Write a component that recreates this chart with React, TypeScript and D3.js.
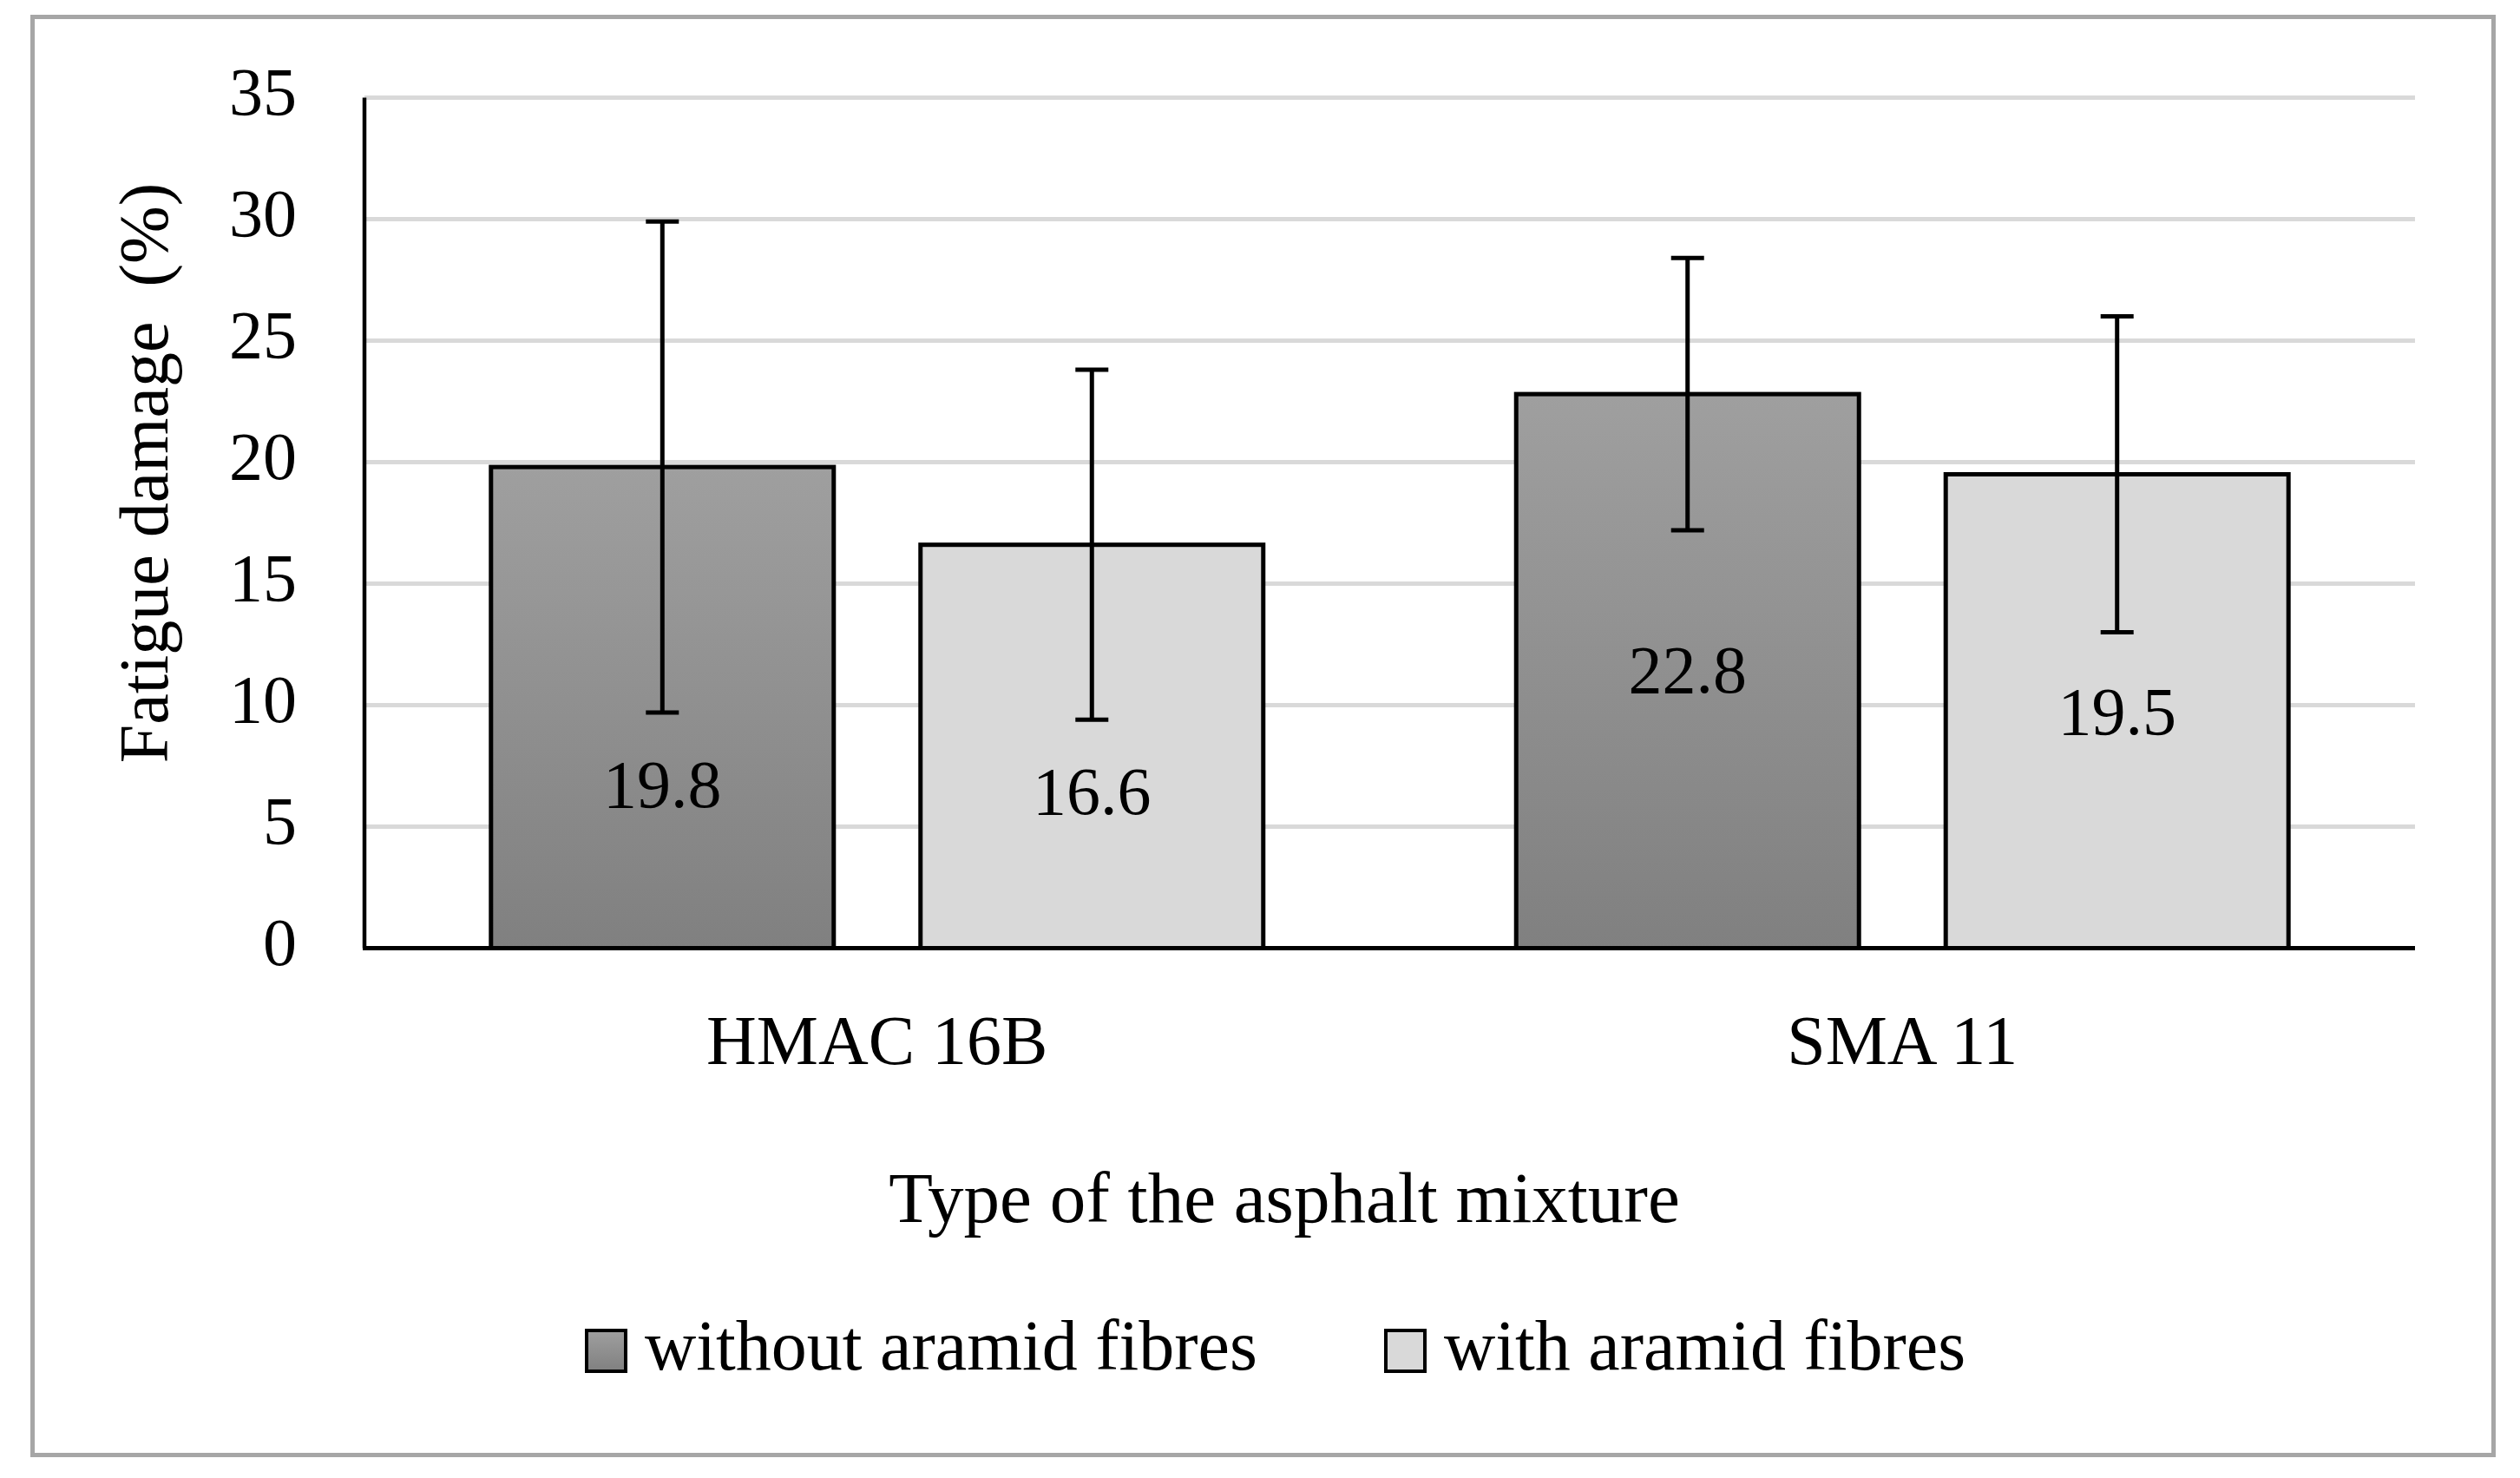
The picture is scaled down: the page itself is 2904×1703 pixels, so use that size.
import { useMemo } from "react";
import * as d3 from "d3";

const WIDTH = 2904;
const HEIGHT = 1703;
const PLOT = { left: 420, right: 2783, top: 112.5, bottom: 1092.5 };
const FONT = "'Palatino Linotype', 'Book Antiqua', Palatino, 'Liberation Serif', 'Times New Roman', serif";
const FS = 78;
const DY = -7; // Liberation sits a little lower than the original Palatino

const CATEGORIES = ["HMAC 16B", "SMA 11"];
const SERIES = ["without aramid fibres", "with aramid fibres"];
const WITHOUT = [19.8, 22.8];
const WITH = [16.6, 19.5];
const WITHOUT_ERR = [10.1, 5.6];
const WITH_ERR = [7.2, 6.5];
// where the value labels sit on each bar (in % units)
const WITHOUT_LABEL_AT = [6.5, 11.2];
const WITH_LABEL_AT = [6.2, 9.5];
const Y_TICKS = [0, 5, 10, 15, 20, 25, 30, 35];

const FILLS = ["url(#gradWithout)", "#d9d9d9"];
const LEGEND_X = [676, 1597];

export default function App() {
  const bars = useMemo(() => {
    const vals = [WITHOUT, WITH];
    const errs = [WITHOUT_ERR, WITH_ERR];
    const labs = [WITHOUT_LABEL_AT, WITH_LABEL_AT];
    return CATEGORIES.flatMap((cat, ci) =>
      SERIES.map((s, si) => ({
        cat,
        series: s,
        si,
        value: vals[si][ci],
        err: errs[si][ci],
        labelAt: labs[si][ci],
      }))
    );
  }, []);

  const y = d3.scaleLinear().domain([0, 35]).range([PLOT.bottom, PLOT.top]);
  const x0 = d3
    .scaleBand()
    .domain(CATEGORIES)
    .range([PLOT.left, PLOT.right])
    .paddingInner(0.2467)
    .paddingOuter(0.1234);
  const x1 = d3
    .scaleBand()
    .domain(SERIES)
    .range([0, x0.bandwidth()])
    .paddingInner(0.202)
    .paddingOuter(0);

  const cap = 19;

  return (
    <div style={{ position: "absolute", left: 0, top: 0 }}>
      <svg width={WIDTH} height={HEIGHT} viewBox={`0 0 ${WIDTH} ${HEIGHT}`} style={{ display: "block", background: "#fff" }}>
        <defs>
          <linearGradient id="gradWithout" x1="0" y1="0" x2="0" y2="1">
            <stop offset="0%" stopColor="#9f9f9f" />
            <stop offset="100%" stopColor="#808080" />
          </linearGradient>
        </defs>
        <rect x={37.5} y={19.5} width={2836} height={1657} fill="#fff" stroke="#a6a6a6" strokeWidth={5} />

        {/* gridlines */}
        {Y_TICKS.filter((t) => t > 0).map((t) => (
          <line key={t} x1={PLOT.left} x2={PLOT.right} y1={y(t)} y2={y(t)} stroke="#d9d9d9" strokeWidth={5} />
        ))}

        {/* bars */}
        {bars.map((b) => {
          const bx = (x0(b.cat) ?? 0) + (x1(b.series) ?? 0);
          return (
            <rect
              key={`${b.cat}-${b.si}`}
              x={bx}
              y={y(b.value)}
              width={x1.bandwidth()}
              height={y(0) - y(b.value)}
              fill={FILLS[b.si]}
              stroke="#000"
              strokeWidth={5}
            />
          );
        })}

        {/* axes */}
        <line x1={PLOT.left} x2={PLOT.left} y1={PLOT.top} y2={PLOT.bottom} stroke="#000" strokeWidth={4.5} />
        <line x1={PLOT.left - 2} x2={PLOT.right} y1={y(0)} y2={y(0)} stroke="#000" strokeWidth={5} />

        {/* error bars */}
        {bars.map((b) => {
          const cx = (x0(b.cat) ?? 0) + (x1(b.series) ?? 0) + x1.bandwidth() / 2;
          const hi = y(b.value + b.err);
          const lo = y(b.value - b.err);
          return (
            <g key={`err-${b.cat}-${b.si}`} stroke="#000" strokeWidth={5}>
              <line x1={cx} x2={cx} y1={hi} y2={lo} />
              <line x1={cx - cap} x2={cx + cap} y1={hi} y2={hi} />
              <line x1={cx - cap} x2={cx + cap} y1={lo} y2={lo} />
            </g>
          );
        })}

        <g fontFamily={FONT} fontSize={FS} fill="#000">
          {/* value labels */}
          {bars.map((b) => (
            <text
              key={`lab-${b.cat}-${b.si}`}
              x={(x0(b.cat) ?? 0) + (x1(b.series) ?? 0) + x1.bandwidth() / 2}
              y={y(b.labelAt)}
              dy={DY}
              textAnchor="middle"
              dominantBaseline="central"
            >
              {b.value.toFixed(1)}
            </text>
          ))}

          {/* y tick labels */}
          {Y_TICKS.map((t) => (
            <text key={`yt-${t}`} x={342} y={y(t)} dy={DY} textAnchor="end" dominantBaseline="central">
              {t}
            </text>
          ))}

          {/* category labels */}
          {CATEGORIES.map((c) => (
            <text
              key={c}
              x={(x0(c) ?? 0) + x0.bandwidth() / 2}
              y={1206}
              dy={DY}
              textAnchor="middle"
              dominantBaseline="central"
              fontSize={80}
            >
              {c}
            </text>
          ))}

          <text
            transform="translate(166,545) rotate(-90)"
            textAnchor="middle"
            dominantBaseline="central"
            fontSize={80}
            style={{ whiteSpace: "pre" }}
          >
            {"Fatigue damage  (%)"}
          </text>
          <text x={1480} y={1387} dy={DY} textAnchor="middle" dominantBaseline="central" fontSize={83}>
            Type of the asphalt mixture
          </text>

          {/* legend */}
          {SERIES.map((s, i) => (
            <g key={s}>
              <rect x={LEGEND_X[i]} y={1533} width={45} height={47} fill={FILLS[i]} stroke="#000" strokeWidth={4} />
              <text x={LEGEND_X[i] + 67} y={1557} dy={DY} dominantBaseline="central" fontSize={82}>
                {s}
              </text>
            </g>
          ))}
        </g>
      </svg>
    </div>
  );
}
